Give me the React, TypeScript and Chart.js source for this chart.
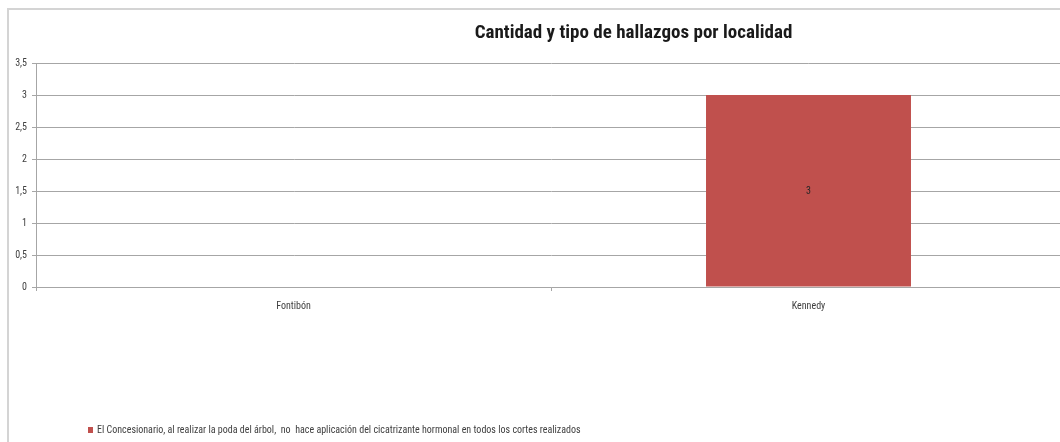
import React, { useEffect, useRef } from "react";
import { Chart, registerables } from "chart.js";

Chart.register(...registerables);

const TITLE = "Cantidad y tipo de hallazgos por localidad";
const categories = ["Fontibón", "Kennedy"];
const seriesLabel =
  "El Concesionario, al realizar la poda del árbol,  no  hace aplicación del cicatrizante hormonal en todos los cortes realizados";
const seriesValues = [0, 3];
const yTicks = [0, 0.5, 1, 1.5, 2, 2.5, 3, 3.5];

const FONT = "'Liberation Sans Narrow', 'Roboto Condensed', Lato, 'Liberation Sans', sans-serif";
const BAR_COLOR = "#C0504D";

const overlayPlugin = {
  id: "overlay",
  afterDraw(chart: any) {
    const ctx = chart.ctx;
    ctx.save();
    // title
    ctx.font = `bold 19px ${FONT}`;
    ctx.fillStyle = "#1a1a1a";
    ctx.textAlign = "center";
    ctx.textBaseline = "middle";
    ctx.fillText(TITLE, 624.5, 23);
    // data labels
    const meta = chart.getDatasetMeta(0);
    ctx.font = `10px ${FONT}`;
    ctx.fillStyle = "#262626";
    meta.data.forEach((bar: any, i: number) => {
      const v = chart.data.datasets[0].data[i];
      if (!v) return;
      const yc = (bar.y + bar.base) / 2;
      ctx.fillText(String(v), bar.x, yc + 1);
    });
    // legend
    const ds = chart.data.datasets[0];
    ctx.fillStyle = ds.backgroundColor;
    ctx.fillRect(79, 417, 5, 6);
    ctx.font = `10px ${FONT}`;
    ctx.fillStyle = "#404040";
    ctx.textAlign = "left";
    ctx.fillText(ds.label, 88, 420.5);
    ctx.restore();
  },
};

export default function App() {
  const ref = useRef<HTMLCanvasElement>(null);
  useEffect(() => {
    if (!ref.current) return;
    const chart = new Chart(ref.current, {
      type: "bar",
      data: {
        labels: categories,
        datasets: [
          {
            label: seriesLabel,
            data: seriesValues,
            backgroundColor: BAR_COLOR,
            borderWidth: 0,
            categoryPercentage: 1,
            barPercentage: 0.398,
          },
        ],
      },
      options: {
        responsive: false,
        animation: false,
        layout: { padding: { top: 53, left: 0, right: 53, bottom: 143 } },
        plugins: {
          legend: { display: false },
          title: { display: false },
          tooltip: { enabled: false },
        },
        scales: {
          x: {
            offset: true,
            grid: {
              offset: true,
              drawOnChartArea: false,
              drawTicks: true,
              tickLength: 4,
              color: "#a6a6a6",
            },
            border: { color: "#a6a6a6", width: 1 },
            ticks: {
              font: { family: FONT, size: 10 },
              color: "#404040",
              padding: 9,
            },
            afterFit(scale: any) {
              scale.height = 30;
            },
          },
          y: {
            min: 0,
            max: 3.5,
            afterBuildTicks(scale: any) {
              scale.ticks = yTicks.map((v) => ({ value: v }));
            },
            grid: {
              color: "#a6a6a6",
              lineWidth: 1,
              tickLength: 4,
              drawTicks: true,
            },
            border: { color: "#a6a6a6", width: 1 },
            ticks: {
              font: { family: FONT, size: 10 },
              color: "#404040",
              padding: 5,
              callback: (v: any) => String(v).replace(".", ","),
            },
            afterFit(scale: any) {
              scale.width = 27;
            },
          },
        },
      },
      plugins: [overlayPlugin],
    });
    return () => chart.destroy();
  }, []);

  return (
    <div
      style={{
        position: "fixed",
        left: 0,
        top: 0,
        width: 1060,
        height: 442,
        overflow: "hidden",
        background: "#fff",
      }}
    >
      <div
        style={{
          position: "absolute",
          left: 7,
          top: 8,
          width: 1110,
          height: 450,
          borderLeft: "2px solid #d4d4d4",
          borderTop: "2px solid #d4d4d4",
        }}
      >
        <canvas ref={ref} width={1110} height={450} style={{ display: "block" }} />
      </div>
    </div>
  );
}
